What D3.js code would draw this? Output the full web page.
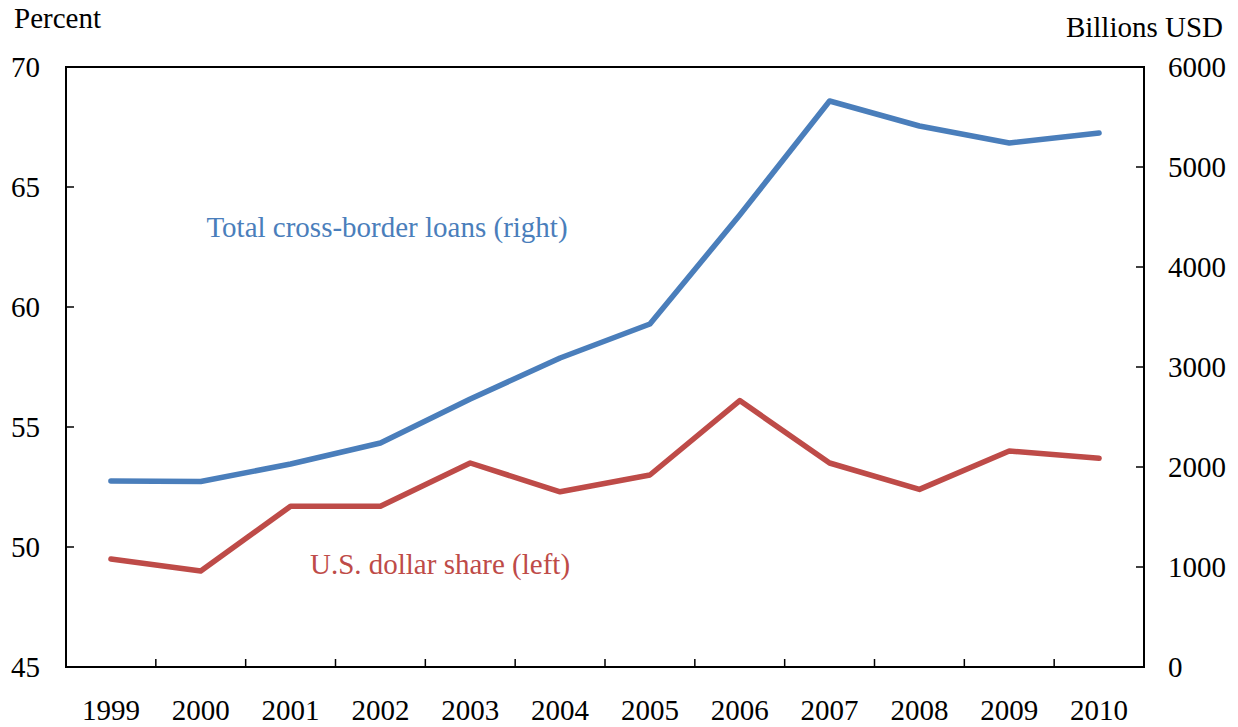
<!DOCTYPE html>
<html><head><meta charset="utf-8">
<script src="https://cdn.jsdelivr.net/npm/d3@7"></script>
<style>body{margin:0;background:#fff}svg{display:block}text{font-family:"Liberation Serif","Times New Roman",serif;}</style>
</head><body>
<script>
const years = ["1999","2000","2001","2002","2003","2004","2005","2006","2007","2008","2009","2010"];
const totalLoans = [1860,1855,2030,2240,2680,3090,3430,4520,5660,5410,5240,5340];
const usdShare = [49.5,49.0,51.7,51.7,53.5,52.3,53.0,56.1,53.5,52.4,54.0,53.7];
const leftTicks = [45,50,55,60,65,70];
const rightTicks = [0,1000,2000,3000,4000,5000,6000];

const W=1238,H=727;
const L=66,R=1144,T=67,B=667;
const svg=d3.select("body").append("svg").attr("width",W).attr("height",H);
const x=d3.scaleBand().domain(years).range([L,R]);
const yL=d3.scaleLinear().domain([45,70]).range([B,T]);
const yR=d3.scaleLinear().domain([0,6000]).range([B,T]);
const fs=29;

// frame
svg.append("rect").attr("x",L).attr("y",T).attr("width",R-L).attr("height",B-T)
  .attr("fill","none").attr("stroke","#000").attr("stroke-width",2);

// category ticks (inside, at band boundaries)
const gx=svg.append("g");
years.slice(1).forEach(d=>{
  gx.append("line").attr("x1",x(d)).attr("x2",x(d)).attr("y1",B).attr("y2",B-8)
    .attr("stroke","#000").attr("stroke-width",1.5);
});
gx.selectAll("text.xl").data(years).join("text").attr("class","xl")
  .attr("x",d=>x(d)+x.bandwidth()/2).attr("y",720).attr("text-anchor","middle")
  .attr("font-size",fs).text(d=>d);

// inner value ticks
svg.selectAll("line.tl").data(leftTicks.slice(1,-1)).join("line").attr("class","tl")
  .attr("x1",L).attr("x2",L+8).attr("y1",d=>yL(d)).attr("y2",d=>yL(d))
  .attr("stroke","#000").attr("stroke-width",1.5);
svg.selectAll("line.tr").data(rightTicks.slice(1,-1)).join("line").attr("class","tr")
  .attr("x1",R-8).attr("x2",R).attr("y1",d=>yR(d)).attr("y2",d=>yR(d))
  .attr("stroke","#000").attr("stroke-width",1.5);

svg.selectAll("text.yl").data(leftTicks).join("text").attr("class","yl")
  .attr("x",40).attr("y",d=>yL(d)+9.5).attr("text-anchor","end").attr("font-size",fs).text(d=>d);
svg.selectAll("text.yr").data(rightTicks).join("text").attr("class","yr")
  .attr("x",1168).attr("y",d=>yR(d)+9.5).attr("text-anchor","start").attr("font-size",fs).text(d=>d);

svg.append("text").attr("x",14).attr("y",28).attr("font-size",fs).text("Percent");
svg.append("text").attr("x",1223).attr("y",37).attr("text-anchor","end").attr("font-size",fs).text("Billions USD");

const cx=d=>x(d)+x.bandwidth()/2;
svg.append("path").datum(years.map((d,i)=>[cx(d),yR(totalLoans[i])]))
  .attr("d",d3.line()).attr("fill","none").attr("stroke","#4a7ebb").attr("stroke-width",5.5)
  .attr("stroke-linejoin","round").attr("stroke-linecap","round");
svg.append("path").datum(years.map((d,i)=>[cx(d),yL(usdShare[i])]))
  .attr("d",d3.line()).attr("fill","none").attr("stroke","#be4b48").attr("stroke-width",5.5)
  .attr("stroke-linejoin","round").attr("stroke-linecap","round");

svg.append("text").attr("x",387).attr("y",237).attr("text-anchor","middle").attr("font-size",fs)
  .attr("fill","#4a7ebb").text("Total cross-border loans (right)");
svg.append("text").attr("x",440).attr("y",574).attr("text-anchor","middle").attr("font-size",fs)
  .attr("fill","#be4b48").text("U.S. dollar share (left)");
</script>
</body></html>
